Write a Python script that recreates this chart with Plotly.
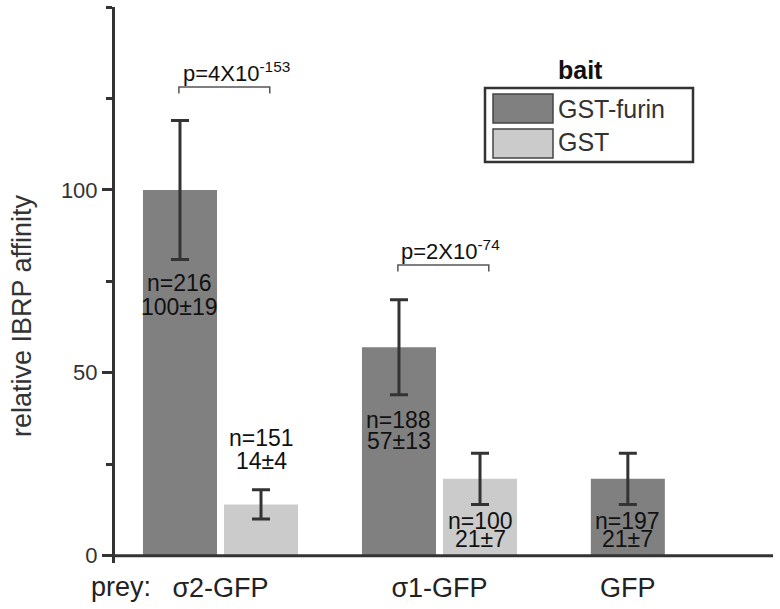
import plotly.graph_objects as go

# ---------------- data ----------------
prey = ["σ2-GFP", "σ1-GFP", "GFP"]
furin_mean = [100, 57, 21]
furin_sd = [19, 13, 7]
furin_n = [216, 188, 197]
gst_mean = [14, 21]          # no GST bar for GFP prey
gst_sd = [4, 7]
gst_n = [151, 100]
p_values = ["4X10<sup>-153</sup>", "2X10<sup>-74</sup>"]

# ---------------- layout constants ----------------
W, H = 780, 609
ML, MR, MT, MB = 115, 7, 7, 46
PW, PH = W - ML - MR, H - MT - MB
Y0, Y1 = -2, 150
group_pos = [0, 1, 1.86]
bar_w = 0.338
off = 0.185
FONT = "Liberation Sans, Arial, sans-serif"
C_FURIN = "#808080"
C_GST = "#cbcbcb"
C_AX = "#333333"


def px_x(p):
    return (p - ML) / PW


def px_y(p):
    return (H - MB - p) / PH


def yval(p):
    return Y0 + (H - MB - p) / PH * (Y1 - Y0)


furin_x = [g - off for g in group_pos[:2]] + [group_pos[2]]
gst_x = [g + off for g in group_pos[:2]]

fig = go.Figure()
fig.add_bar(x=furin_x, y=furin_mean, width=bar_w, name="GST-furin",
            marker=dict(color=C_FURIN, line=dict(width=0)),
            error_y=dict(type="data", array=furin_sd, color=C_AX, thickness=3, width=9))
fig.add_bar(x=gst_x, y=gst_mean, width=bar_w, name="GST",
            marker=dict(color=C_GST, line=dict(width=0)),
            error_y=dict(type="data", array=gst_sd, color=C_AX, thickness=3, width=9))

ann = []
lab_font = dict(family=FONT, size=23, color="#111")
# value labels (pixel y of each text line centre)
furin_lab_y = [(283, 307), (420, 441), (521, 539)]
gst_lab_y = [(438, 461), (521, 539)]
for x, n, m, s, (ya, yb) in zip(furin_x, furin_n, furin_mean, furin_sd, furin_lab_y):
    ann.append(dict(x=x, y=yval(ya), text=f"n={n}", showarrow=False, font=lab_font, yanchor="middle"))
    ann.append(dict(x=x, y=yval(yb), text=f"{m}±{s}", showarrow=False, font=lab_font, yanchor="middle"))
for x, n, m, s, (ya, yb) in zip(gst_x, gst_n, gst_mean, gst_sd, gst_lab_y):
    ann.append(dict(x=x, y=yval(ya), text=f"n={n}", showarrow=False, font=lab_font, yanchor="middle"))
    ann.append(dict(x=x, y=yval(yb), text=f"{m}±{s}", showarrow=False, font=lab_font, yanchor="middle"))

shapes = []
# significance brackets
bracket_y = [87, 265]
text_left = [181, 399]
for g, by, pv, tx in zip(group_pos[:2], bracket_y, p_values, text_left):
    x0, x1 = g - 0.19, g + 0.225
    yb, yt = yval(by + 6.5), yval(by)
    shapes.append(dict(type="path", xref="x", yref="y",
                       path=f"M {x0} {yb} L {x0} {yt} L {x1} {yt} L {x1} {yb}",
                       line=dict(color="#555", width=1.5)))
    ann.append(dict(x=px_x(tx), xref="paper", y=yval(by + 1), text="p=" + pv, showarrow=False,
                    xanchor="left", yanchor="bottom", font=dict(family=FONT, size=22, color="#111")))

# x axis baseline
shapes.append(dict(type="line", xref="paper", yref="y", x0=0, x1=1, y0=0, y1=0,
                   line=dict(color=C_AX, width=3)))

# manual legend
shapes.append(dict(type="rect", xref="paper", yref="paper",
                   x0=px_x(485), x1=px_x(693), y0=px_y(162), y1=px_y(88),
                   line=dict(color=C_AX, width=2.5), fillcolor="white", layer="above"))
for (t, b), col in [((94, 123), C_FURIN), ((129, 158), C_GST)]:
    shapes.append(dict(type="rect", xref="paper", yref="paper",
                       x0=px_x(493), x1=px_x(553), y0=px_y(b), y1=px_y(t),
                       line=dict(color="#444", width=1.5), fillcolor=col, layer="above"))
for txt, yc in [("GST-furin", 109), ("GST", 142)]:
    ann.append(dict(x=px_x(556), xref="paper", y=px_y(yc), yref="paper", text=txt, showarrow=False,
                    xanchor="left", yanchor="middle", font=dict(family=FONT, size=25, color="#333")))
ann.append(dict(x=px_x(580), xref="paper", y=px_y(70), yref="paper", text="<b>bait</b>", showarrow=False,
                xanchor="center", yanchor="middle", font=dict(family=FONT, size=25, color="#111")))

# y title and prey label
ann.append(dict(x=px_x(22), xref="paper", y=px_y(316), yref="paper", text="relative IBRP affinity",
                textangle=-90, showarrow=False, xanchor="center", yanchor="middle",
                font=dict(family=FONT, size=27, color="#333")))
ann.append(dict(x=px_x(153), xref="paper", y=px_y(587), yref="paper", text="prey:", showarrow=False,
                xanchor="right", yanchor="middle", font=dict(family=FONT, size=27, color="#222")))

fig.update_layout(
    width=W, height=H, margin=dict(l=ML, r=MR, t=MT, b=MB),
    paper_bgcolor="white", plot_bgcolor="white",
    showlegend=False, barmode="overlay",
    font=dict(family=FONT),
    annotations=ann, shapes=shapes,
    xaxis=dict(range=[(ML - 220.5) / 219, (W - MR - 220.5) / 219],
               tickvals=group_pos, ticktext=prey, showline=False, ticks="",
               showgrid=False, zeroline=False, ticklabelstandoff=6,
               tickfont=dict(family=FONT, size=27, color="#222")),
    yaxis=dict(range=[Y0, Y1], tickvals=[0, 50, 100], ticktext=["0", "50", "100"],
               showline=True, linecolor=C_AX, linewidth=3,
               ticks="outside", ticklen=10, tickwidth=2.5, tickcolor=C_AX,
               minor=dict(dtick=25, tick0=0, ticks="outside", ticklen=6, tickwidth=2.5, tickcolor=C_AX),
               showgrid=False, zeroline=False,
               tickfont=dict(family=FONT, size=22, color="#333")),
)

fig.write_html("out.html", config={"displayModeBar": False},
               post_script="document.body.style.margin='0px';")
